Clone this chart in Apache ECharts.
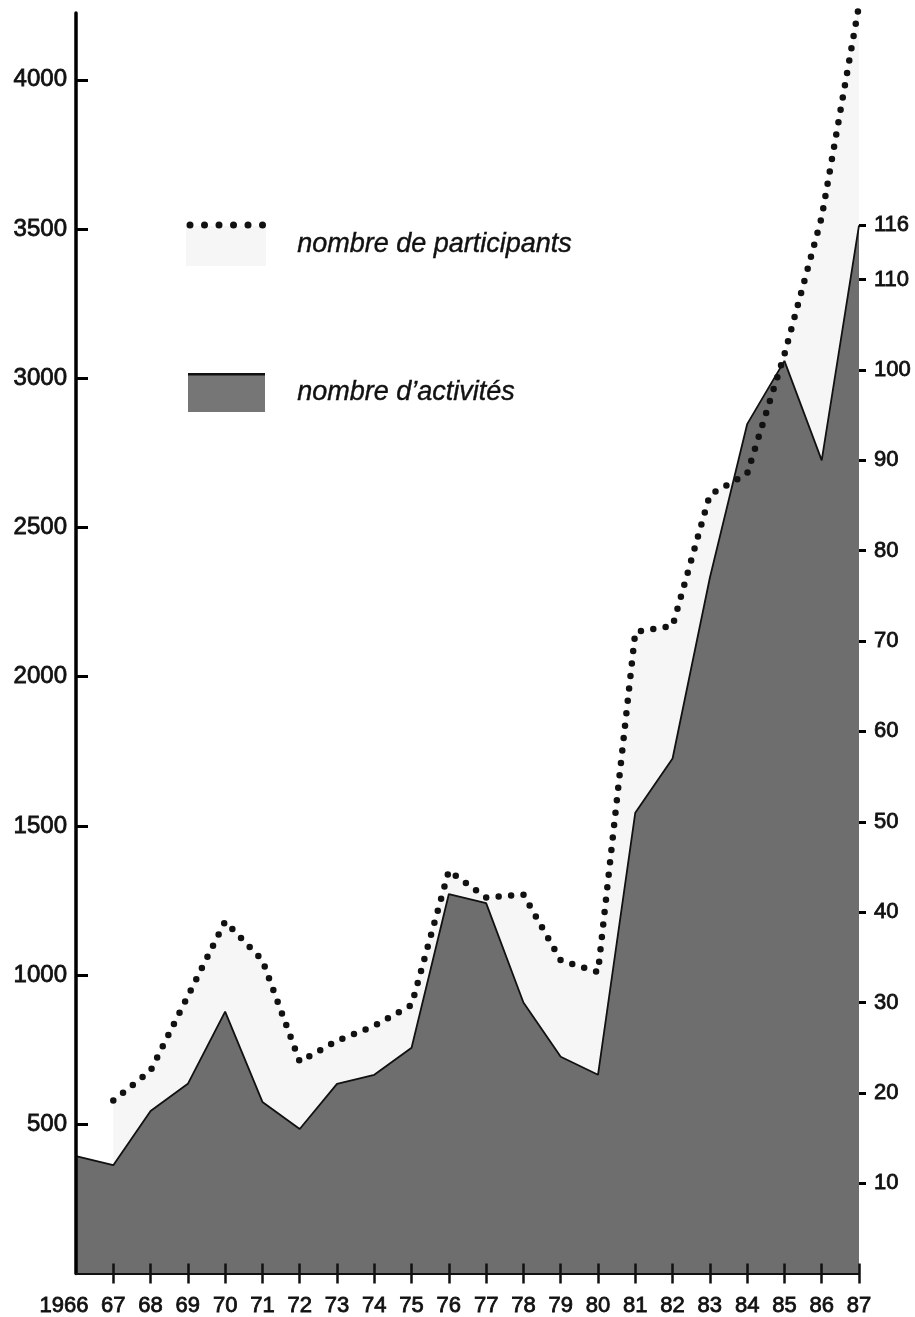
<!DOCTYPE html>
<html>
<head>
<meta charset="utf-8">
<script src="https://cdn.jsdelivr.net/npm/echarts@6/dist/echarts.min.js"></script>
<style>
    html, body { margin: 0; padding: 0; background: #fff; }
    #main { width: 915px; height: 1317px; }
</style>
</head>
<body>
<div id="main"></div>
<script>
// données
var annees = ['1966', '67', '68', '69', '70', '71', '72', '73', '74', '75', '76',
    '77', '78', '79', '80', '81', '82', '83', '84', '85', '86', '87']
var participants = [null, 580, 680, 930, 1180, 1050, 710, 780, 830, 900, 1350,
    1260, 1270, 1050, 1010, 2150, 2170, 2610, 2680, 3080, 3540, 4250]
var activites = [13, 12, 18, 21, 29, 19, 16, 21, 22, 25, 42,
    41, 30, 24, 22, 51, 57, 77, 94, 101, 90, 116]
var ticksGauche = [500, 1000, 1500, 2000, 2500, 3000, 3500, 4000]
var ticksDroite = [10, 20, 30, 40, 50, 60, 70, 80, 90, 100, 110, 116]

var police = 'Liberation Sans, Arial, sans-serif'

var myChart = echarts.init(document.getElementById('main'))

// style commun des chiffres (un peu épaissis comme sur l'original)
function chiffres(taille, marge) {
    return {
        margin: marge,
        color: '#111',
        fontSize: taille,
        fontFamily: police,
        textBorderColor: '#111',
        textBorderWidth: 0.8
    }
}

var labelX = chiffres(22, 21)
labelX.interval = 0
labelX.formatter = function (v, i) {
    return i === 0 ? '{premier|' + v + '}' : v
}
labelX.rich = {
    premier: {
        padding: [0, 24, 0, 0], fontSize: 22, fontFamily: police, color: '#111',
        textBorderColor: '#111', textBorderWidth: 0.8
    }
}

var labelGauche = chiffres(24, 9)
labelGauche.customValues = ticksGauche
labelGauche.formatter = function (v) { return String(v) }

var labelDroite = chiffres(22, 15)
labelDroite.customValues = ticksDroite
labelDroite.formatter = function (v) { return String(v) }

var option = {
    backgroundColor: '#fff',
    animation: false,
    grid: {
        left: 76,
        right: 56,
        top: 13,
        bottom: 43
    },
    xAxis: [
        {
            type: 'category',
            data: annees,
            boundaryGap: false,
            z: 5,
            axisLine: { lineStyle: { color: '#111', width: 2 } },
            axisTick: {
                inside: false,
                length: 10,
                interval: function (i) { return i > 0 },
                lineStyle: { color: '#111', width: 2.5 }
            },
            axisLabel: labelX,
            splitLine: { show: false }
        },
        {
            // demi-graduations au-dessus de l'axe
            type: 'category',
            data: annees,
            boundaryGap: false,
            position: 'bottom',
            z: 5,
            axisLine: { show: false },
            axisTick: {
                inside: true,
                length: 10,
                interval: function (i) { return i > 0 },
                lineStyle: { color: '#111', width: 2.5 }
            },
            axisLabel: { show: false },
            splitLine: { show: false }
        }
    ],
    yAxis: [
        {
            type: 'value',
            position: 'left',
            min: 0,
            max: 4224,
            z: 5,
            axisLine: { show: true, lineStyle: { color: '#000', width: 3.5 } },
            axisTick: {
                show: true,
                inside: true,
                length: 12,
                customValues: ticksGauche,
                lineStyle: { color: '#000', width: 3 }
            },
            axisLabel: labelGauche,
            splitLine: { show: false }
        },
        {
            type: 'value',
            position: 'right',
            min: 0,
            max: 139.5,
            z: 5,
            axisLine: { show: false },
            axisTick: {
                show: true,
                inside: false,
                length: 7,
                customValues: ticksDroite,
                lineStyle: { color: '#000', width: 3 }
            },
            axisLabel: labelDroite,
            splitLine: { show: false }
        }
    ],
    series: [
        {
            // fond très clair sous les participants
            name: 'fond',
            type: 'line',
            yAxisIndex: 0,
            data: participants,
            symbol: 'none',
            silent: true,
            lineStyle: { width: 0 },
            areaStyle: { color: '#f6f6f6', opacity: 1 },
            z: 1
        },
        {
            name: "nombre d'activités",
            type: 'line',
            yAxisIndex: 1,
            data: activites,
            symbol: 'none',
            lineStyle: { color: '#111', width: 1.8 },
            areaStyle: { color: '#6e6e6e', opacity: 1 },
            z: 2
        },
        {
            name: 'nombre de participants',
            type: 'line',
            yAxisIndex: 0,
            data: participants,
            symbol: 'none',
            clip: false,
            lineStyle: { color: '#111', width: 6.5, type: [0, 12.5], cap: 'round' },
            z: 3
        }
    ],
    graphic: [
        { type: 'rect', left: 186, top: 226, shape: { width: 80, height: 40 }, style: { fill: '#f6f6f6' }, z: 10 },
        { type: 'circle', shape: { cx: 190, cy: 225, r: 3.5 }, style: { fill: '#111' }, z: 11 },
        { type: 'circle', shape: { cx: 204.5, cy: 225, r: 3.5 }, style: { fill: '#111' }, z: 11 },
        { type: 'circle', shape: { cx: 219, cy: 225, r: 3.5 }, style: { fill: '#111' }, z: 11 },
        { type: 'circle', shape: { cx: 233.5, cy: 225, r: 3.5 }, style: { fill: '#111' }, z: 11 },
        { type: 'circle', shape: { cx: 248, cy: 225, r: 3.5 }, style: { fill: '#111' }, z: 11 },
        { type: 'circle', shape: { cx: 262.5, cy: 225, r: 3.5 }, style: { fill: '#111' }, z: 11 },
        {
            type: 'text', left: 297, top: 231, z: 11,
            style: {
                text: 'nombre de participants', fill: '#111', font: 'italic 27px ' + police,
                stroke: '#111', lineWidth: 0.4
            }
        },
        { type: 'rect', left: 188, top: 374, shape: { width: 77, height: 38 }, style: { fill: '#767676' }, z: 10 },
        { type: 'rect', left: 188, top: 373, shape: { width: 77, height: 2.5 }, style: { fill: '#111' }, z: 11 },
        {
            type: 'text', left: 297, top: 379, z: 11,
            style: {
                text: 'nombre d\u2019activités', fill: '#111', font: 'italic 27px ' + police,
                stroke: '#111', lineWidth: 0.4
            }
        }
    ]
}

myChart.setOption(option)
</script>
</body>
</html>
